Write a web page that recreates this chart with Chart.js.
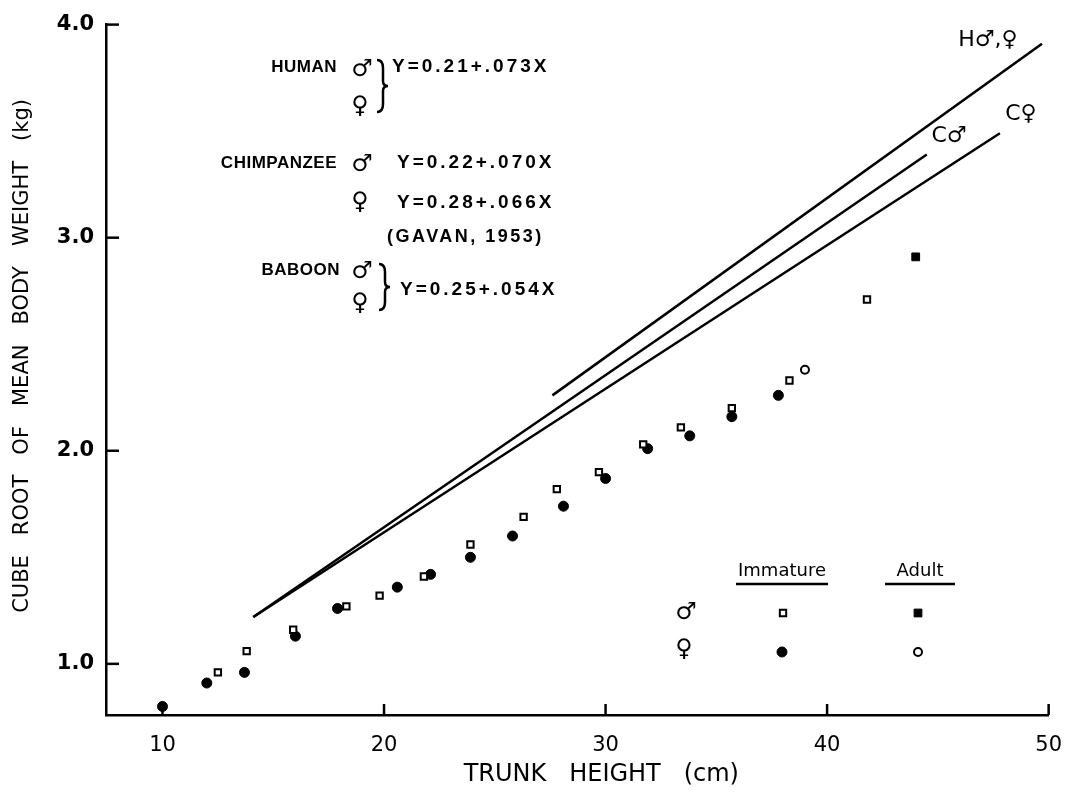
<!DOCTYPE html>
<html>
<head>
<meta charset="utf-8">
<script src="https://cdn.jsdelivr.net/npm/chart.js@4"></script>
<style>
  html, body { margin: 0; padding: 0; background: #fff; }
  #wrap { width: 1080px; height: 793px; }
</style>
</head>
<body>
<div id="wrap"><canvas id="c" width="1080" height="793"></canvas></div>
<script>
// ---- data ----
const xTickValues = [10, 20, 30, 40, 50];
const yTickValues = [1, 2, 3, 4];

// immature males (open squares)
const immMaleX = [12.5, 13.8, 15.9, 18.3, 19.8, 21.8, 23.9, 26.3, 27.8, 29.7, 31.7, 33.4, 35.7, 38.3, 41.8];
const immMaleY = [0.96, 1.06, 1.16, 1.27, 1.32, 1.41, 1.56, 1.69, 1.82, 1.90, 2.03, 2.11, 2.20, 2.33, 2.71];

// immature females (filled circles)
const immFemX = [10.0, 12.0, 13.7, 16.0, 17.9, 20.6, 22.1, 23.9, 25.8, 28.1, 30.0, 31.9, 33.8, 35.7, 37.8];
const immFemY = [0.80, 0.91, 0.96, 1.13, 1.26, 1.36, 1.42, 1.50, 1.60, 1.74, 1.87, 2.01, 2.07, 2.16, 2.26];

// adult male (filled square) and adult female (open circle)
const adultMaleX = [44.0];
const adultMaleY = [2.91];
const adultFemX = [39.0];
const adultFemY = [2.38];

// regression lines (end points)
const humanLineX = [27.6, 49.7];
const humanLineY = [2.26, 3.91];
const chimpMaleLineX = [14.1, 44.5];
const chimpMaleLineY = [1.22, 3.39];
const chimpFemLineX = [14.1, 47.8];
const chimpFemLineY = [1.22, 3.49];

const toPts = (xs, ys) => xs.map((x, i) => ({ x: x, y: ys[i] }));

const FONT = '"DejaVu Sans", "Liberation Sans", sans-serif';
const LFONT = '"Liberation Sans", Arial, sans-serif';

const annotPlugin = {
  id: 'annot',
  afterDraw(chart) {
    const ctx = chart.ctx;
    const xs = chart.scales.x, ys = chart.scales.y;
    ctx.save();
    ctx.strokeStyle = '#000';
    ctx.fillStyle = '#000';
    ctx.lineWidth = 2.5;
    ctx.lineCap = 'butt';
    // inward tick marks
    xTickValues.forEach(v => {
      const px = xs.getPixelForValue(v);
      ctx.beginPath();
      ctx.moveTo(px, ys.bottom);
      ctx.lineTo(px, ys.bottom - 11);
      ctx.stroke();
    });
    yTickValues.forEach(v => {
      const py = ys.getPixelForValue(v);
      ctx.beginPath();
      ctx.moveTo(xs.left, py);
      ctx.lineTo(xs.left + 13, py);
      ctx.stroke();
    });

    ctx.textBaseline = 'middle';
    const lab = (t, x, y, align, font, spacing) => {
      ctx.font = font;
      ctx.textAlign = align;
      try { ctx.letterSpacing = (spacing || 0) + 'px'; } catch (e) {}
      ctx.fillText(t, x, y);
      try { ctx.letterSpacing = '0px'; } catch (e) {}
    };
    const brace = (x, y0, y1) => {
      const ym = (y0 + y1) / 2;
      ctx.lineWidth = 2.5;
      ctx.beginPath();
      ctx.moveTo(x - 4, y0);
      ctx.quadraticCurveTo(x + 2, y0, x + 2, y0 + 8);
      ctx.lineTo(x + 2, ym - 5);
      ctx.quadraticCurveTo(x + 2, ym, x + 7, ym);
      ctx.quadraticCurveTo(x + 2, ym, x + 2, ym + 5);
      ctx.lineTo(x + 2, y1 - 8);
      ctx.quadraticCurveTo(x + 2, y1, x - 4, y1);
      ctx.stroke();
    };
    const NAME = 'bold 17px ' + LFONT;
    const EQ = 'bold 19px ' + LFONT;
    const SYM = 'bold 24px ' + FONT;
    lab('HUMAN', 337, 67, 'right', NAME, 0.5);
    lab('\u2642', 362, 70, 'center', SYM, 0);
    lab('\u2640', 360, 107, 'center', SYM, 0);
    brace(381, 60, 112);
    lab('Y=0.21+.073X', 392, 67, 'left', EQ, 3);

    lab('CHIMPANZEE', 337, 163, 'right', NAME, 0.5);
    lab('\u2642', 362, 165, 'center', SYM, 0);
    lab('Y=0.22+.070X', 397, 163, 'left', EQ, 3);
    lab('\u2640', 360, 203, 'center', SYM, 0);
    lab('Y=0.28+.066X', 397, 203, 'left', EQ, 3);
    lab('(GAVAN, 1953)', 387, 237, 'left', 'bold 18px ' + LFONT, 2.5);

    lab('BABOON', 340, 270, 'right', NAME, 0.5);
    lab('\u2642', 362, 272, 'center', SYM, 0);
    lab('\u2640', 360, 304, 'center', SYM, 0);
    brace(383, 264, 310);
    lab('Y=0.25+.054X', 400, 290, 'left', EQ, 3);

    // line labels
    lab('H\u2642,\u2640', 988, 40, 'center', '22px ' + FONT, 0);
    lab('C\u2642', 949, 136, 'center', '22px ' + FONT, 0);
    lab('C\u2640', 1021, 114, 'center', '22px ' + FONT, 0);

    // legend
    lab('Immature', 782, 571, 'center', '18px ' + FONT, 0);
    lab('Adult', 920, 571, 'center', '18px ' + FONT, 0);
    ctx.lineWidth = 2.5;
    ctx.beginPath();
    ctx.moveTo(736, 584); ctx.lineTo(828, 584);
    ctx.moveTo(885, 584); ctx.lineTo(955, 584);
    ctx.stroke();
    lab('\u2642', 686, 613, 'center', SYM, 0);
    lab('\u2640', 684, 650, 'center', SYM, 0);
    const dp = Chart.helpers.drawPoint;
    const ds = chart.data.datasets;
    const pt = (d, x, y) => {
      ctx.fillStyle = d.backgroundColor;
      ctx.strokeStyle = d.borderColor;
      ctx.lineWidth = d.borderWidth;
      dp(ctx, { pointStyle: d.pointStyle, radius: d.pointRadius, rotation: 0, borderWidth: d.borderWidth }, x, y);
    };
    pt(ds[0], 783, 613);
    pt(ds[2], 918, 613);
    pt(ds[1], 782, 652);
    pt(ds[3], 918, 652);
    ctx.restore();
  }
};

new Chart(document.getElementById('c'), {
  type: 'scatter',
  data: {
    datasets: [
      { label: 'Immature \u2642', data: toPts(immMaleX, immMaleY), pointStyle: 'rect', pointRadius: 4.5,
        backgroundColor: '#fff', borderColor: '#000', borderWidth: 2 },
      { label: 'Immature \u2640', data: toPts(immFemX, immFemY), pointStyle: 'circle', pointRadius: 5,
        backgroundColor: '#000', borderColor: '#000', borderWidth: 1 },
      { label: 'Adult \u2642', data: toPts(adultMaleX, adultMaleY), pointStyle: 'rect', pointRadius: 5.5,
        backgroundColor: '#000', borderColor: '#000', borderWidth: 1 },
      { label: 'Adult \u2640', data: toPts(adultFemX, adultFemY), pointStyle: 'circle', pointRadius: 4,
        backgroundColor: '#fff', borderColor: '#000', borderWidth: 2 },
      { label: 'H \u2642,\u2640', data: toPts(humanLineX, humanLineY), showLine: true, pointRadius: 0,
        borderColor: '#000', borderWidth: 2.5 },
      { label: 'C \u2642', data: toPts(chimpMaleLineX, chimpMaleLineY), showLine: true, pointRadius: 0,
        borderColor: '#000', borderWidth: 2.5 },
      { label: 'C \u2640', data: toPts(chimpFemLineX, chimpFemLineY), showLine: true, pointRadius: 0,
        borderColor: '#000', borderWidth: 2.5 }
    ]
  },
  options: {
    responsive: false,
    animation: false,
    devicePixelRatio: 1,
    layout: { padding: { left: 0, right: 29, top: 15, bottom: 4 } },
    plugins: { legend: { display: false }, tooltip: { enabled: false } },
    scales: {
      x: {
        type: 'linear', min: 7.45, max: 50,
        afterBuildTicks: s => { s.ticks = xTickValues.map(v => ({ value: v })); },
        afterFit: s => { s.height = 74; },
        grid: { display: false, drawTicks: false },
        border: { display: true, color: '#000', width: 2.5 },
        ticks: { color: '#000', padding: 18, font: { family: FONT, size: 21 }, callback: v => String(v) },
        title: { display: true, text: '\u2003\u2003TRUNK   HEIGHT   (cm)', color: '#000',
                 font: { family: FONT, size: 24 }, padding: { top: 0, bottom: 0 } }
      },
      y: {
        type: 'linear', min: 0.76, max: 4.0,
        afterBuildTicks: s => { s.ticks = yTickValues.map(v => ({ value: v })); },
        afterFit: s => { s.width = 106; },
        grid: { display: false, drawTicks: false },
        border: { display: true, color: '#000', width: 2.5 },
        ticks: { color: '#000', padding: 12, font: { family: FONT, size: 21, weight: 'bold' }, callback: v => v.toFixed(1) },
        title: { display: true, text: '\u2003 CUBE   ROOT   OF   MEAN   BODY   WEIGHT   (kg)', color: '#000',
                 font: { family: FONT, size: 21 }, padding: { top: 10, bottom: 0 } }
      }
    }
  },
  plugins: [annotPlugin]
});
</script>
</body>
</html>
